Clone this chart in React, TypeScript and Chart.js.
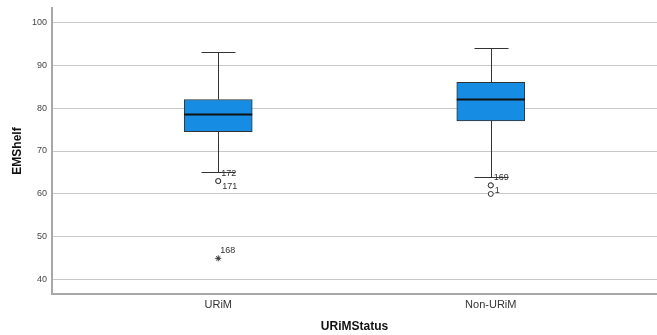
import React, { useEffect, useRef } from "react";
import { Chart, registerables } from "chart.js";

Chart.register(...registerables);

const categories = ["URiM", "Non-URiM"];
const whiskerLow = [65, 64];
const q1 = [74.5, 77];
const median = [78.5, 82];
const q3 = [82, 86];
const whiskerHigh = [93, 94];

const outlierCategory = [0, 0, 1, 1, 1];
const outlierValues = [63, 63, 62, 62, 60];
const outlierIds = ["172", "171", "169", "1", ""];
const outlierLabelSide = ["above", "below", "above", "below", "none"];

const extremeCategory = [0];
const extremeValues = [45];
const extremeIds = ["168"];

const yTicks = [40, 50, 60, 70, 80, 90, 100];

const FONT = "'Liberation Sans', Arial, sans-serif";

const boxPlugin = {
  id: "boxExtras",
  beforeDatasetsDraw(chart: any) {
    const { ctx } = chart;
    const xs = chart.scales.x;
    const ys = chart.scales.y;
    ctx.save();
    ctx.strokeStyle = "#333";
    ctx.lineWidth = 1;
    categories.forEach((_, i) => {
      const x = Math.round(xs.getPixelForValue(i + 1)) + 0.5;
      const capHalf = 17;
      const yl = Math.round(ys.getPixelForValue(whiskerLow[i])) + 0.5;
      const yq1 = ys.getPixelForValue(q1[i]);
      const yq3 = ys.getPixelForValue(q3[i]);
      const yh = Math.round(ys.getPixelForValue(whiskerHigh[i])) + 0.5;
      ctx.beginPath();
      ctx.moveTo(x, yl);
      ctx.lineTo(x, yq1);
      ctx.moveTo(x, yq3);
      ctx.lineTo(x, yh);
      ctx.moveTo(x - capHalf, yl);
      ctx.lineTo(x + capHalf, yl);
      ctx.moveTo(x - capHalf, yh);
      ctx.lineTo(x + capHalf, yh);
      ctx.stroke();
    });
    ctx.restore();
  },
  afterDatasetsDraw(chart: any) {
    const { ctx } = chart;
    const xs = chart.scales.x;
    const ys = chart.scales.y;
    ctx.save();
    ctx.strokeStyle = "#111";
    ctx.lineWidth = 2;
    categories.forEach((_, i) => {
      const x = xs.getPixelForValue(i + 1);
      const y = ys.getPixelForValue(median[i]);
      ctx.beginPath();
      ctx.moveTo(x - 34, y);
      ctx.lineTo(x + 34, y);
      ctx.stroke();
    });
    ctx.fillStyle = "#333";
    ctx.font = `9px ${FONT}`;
    ctx.textAlign = "left";
    ctx.textBaseline = "middle";
    outlierValues.forEach((v, k) => {
      const side = outlierLabelSide[k];
      if (side === "none" || !outlierIds[k]) return;
      const x = xs.getPixelForValue(outlierCategory[k] + 1);
      const y = ys.getPixelForValue(v);
      if (side === "above") ctx.fillText(outlierIds[k], x + 3, y - 8);
      else ctx.fillText(outlierIds[k], x + 4, y + 5);
    });
    extremeValues.forEach((v, k) => {
      const x = xs.getPixelForValue(extremeCategory[k] + 1);
      const y = ys.getPixelForValue(v);
      ctx.fillText(extremeIds[k], x + 2, y - 8);
    });
    ctx.restore();
  },
};

export default function App() {
  const ref = useRef<HTMLCanvasElement>(null);
  useEffect(() => {
    document.body.style.margin = "0";
    const chart = new Chart(ref.current as HTMLCanvasElement, {
      type: "bar",
      data: {
        datasets: [
          {
            type: "bar",
            data: categories.map((_, i) => ({ x: i + 1, y: [q1[i], q3[i]] })) as any,
            backgroundColor: "#168ce2",
            borderColor: "#333",
            borderWidth: 1,
            borderSkipped: false,
            barThickness: 68,
          } as any,
          {
            type: "scatter",
            data: outlierValues.map((v, k) => ({ x: outlierCategory[k] + 1, y: v })),
            pointStyle: "circle",
            pointRadius: 2.5,
            backgroundColor: "#fff",
            borderColor: "#333",
            borderWidth: 1,
          } as any,
          {
            type: "scatter",
            data: extremeValues.map((v, k) => ({ x: extremeCategory[k] + 1, y: v })),
            pointStyle: "star",
            pointRadius: 3,
            backgroundColor: "#333",
            borderColor: "#333",
            borderWidth: 1,
          } as any,
        ],
      },
      options: {
        responsive: false,
        animation: false,
        layout: { autoPadding: false, padding: { top: 8, right: 0, bottom: 0, left: 0 } },
        plugins: { legend: { display: false }, tooltip: { enabled: false } },
        scales: {
          x: {
            type: "linear",
            offset: false,
            min: 0.39,
            max: 2.61,
            afterBuildTicks: (s: any) => {
              s.ticks = categories.map((_, i) => ({ value: i + 1 }));
            },
            afterFit: (s: any) => {
              s.height = 41;
              s.paddingLeft = 0;
              s.paddingRight = 0;
            },
            ticks: {
              callback: (v: any) => categories[Number(v) - 1] ?? "",
              color: "#333",
              font: { family: FONT, size: 11 },
              padding: 4,
              maxRotation: 0,
            },
            grid: { display: false, drawTicks: false, offset: false },
            border: { color: "#a8a8a8", width: 2 },
            title: {
              display: true,
              text: "URiMStatus",
              color: "#111",
              font: { family: FONT, size: 12, weight: "bold" },
              padding: { top: 1, bottom: 1 },
            },
          },
          y: {
            type: "linear",
            min: 36.7,
            max: 103.3,
            afterBuildTicks: (s: any) => {
              s.ticks = yTicks.map((v) => ({ value: v }));
            },
            afterFit: (s: any) => {
              s.width = 52;
              s.paddingTop = 0;
              s.paddingBottom = 0;
            },
            ticks: {
              color: "#444",
              font: { family: FONT, size: 9 },
              padding: 5,
            },
            grid: { color: "#c8c8c8", lineWidth: 1, drawTicks: false },
            border: { color: "#a8a8a8", width: 2 },
            title: {
              display: true,
              text: "EMShelf",
              color: "#111",
              font: { family: FONT, size: 12, weight: "bold" },
              padding: { top: 10, bottom: 4 },
            },
          },
        },
      },
      plugins: [boxPlugin],
    } as any);
    return () => chart.destroy();
  }, []);
  return (
    <div style={{ width: 657, height: 335, background: "#fff" }}>
      <canvas ref={ref} width={657} height={335} style={{ display: "block" }} />
    </div>
  );
}
